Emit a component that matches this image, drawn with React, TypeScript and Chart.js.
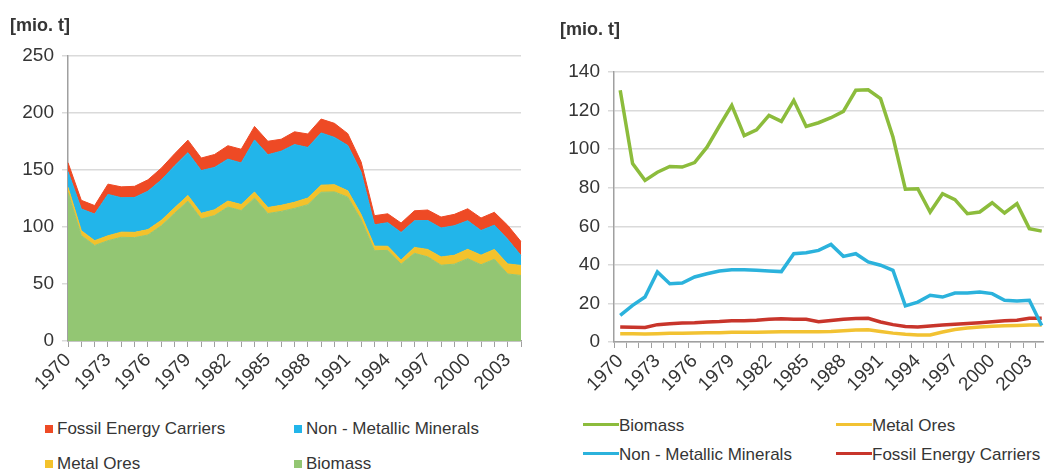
import React, { useEffect, useRef } from "react";
import { Chart, registerables } from "chart.js";

Chart.register(...registerables);

const years = [
  "1970", "1971", "1972", "1973", "1974", "1975", "1976", "1977", "1978", "1979",
  "1980", "1981", "1982", "1983", "1984", "1985", "1986", "1987", "1988", "1989",
  "1990", "1991", "1992", "1993", "1994", "1995", "1996", "1997", "1998", "1999",
  "2000", "2001", "2002", "2003", "2004",
];

const biomass = [
  130.5, 92.5, 83.8, 88, 91, 90.7, 93, 101, 112, 122.7,
  107, 110, 117.5, 114.4, 125.3, 111.8, 113.7, 116.3, 119.6, 130.5,
  130.8, 126.2, 106.3, 79.2, 79.5, 67.4, 76.9, 73.8, 66.5, 67.4,
  72.2, 66.9, 71.7, 58.8, 57.5,
];

const metalOres = [
  4.3, 4.3, 4.2, 4.3, 4.5, 4.6, 4.7, 4.8, 4.8, 5,
  5, 5.1, 5.2, 5.3, 5.3, 5.3, 5.3, 5.4, 5.8, 6.2,
  6.3, 5.5, 4.6, 4.0, 3.6, 3.6, 5.2, 6.5, 7.2, 7.8,
  8.2, 8.4, 8.6, 8.8, 8.8,
];

const nonMetallic = [
  13.8, 19, 23.3, 36.3, 30.2, 30.6, 33.7, 35.4, 36.8, 37.5,
  37.5, 37.2, 36.8, 36.5, 45.8, 46.3, 47.5, 50.6, 44.4, 45.8,
  41.5, 39.8, 37.2, 18.7, 20.7, 24.2, 23.3, 25.4, 25.4, 25.9,
  25.1, 21.6, 21.3, 21.6, 8.6,
];

const fossil = [
  7.8, 7.6, 7.5, 9, 9.5, 9.8, 10, 10.4, 10.6, 11,
  11, 11.3, 11.8, 12, 11.8, 11.8, 10.5, 11.2, 11.8, 12.2,
  12.3, 10.4, 9, 8, 7.8, 8.3, 8.8, 9.2, 9.6, 10,
  10.5, 11, 11.3, 12.3, 12.3,
];

const unitLabel = "[mio. t]";
const leftLegend = [
  { label: "Fossil Energy Carriers", color: "#ee4a25" },
  { label: "Non - Metallic Minerals", color: "#22b5ea" },
  { label: "Metal Ores", color: "#f3c22c" },
  { label: "Biomass", color: "#93c673" },
];
const rightLegend = [
  { label: "Biomass", color: "#8cbc3c" },
  { label: "Metal Ores", color: "#f2c232" },
  { label: "Non - Metallic Minerals", color: "#2bb2dc" },
  { label: "Fossil Energy Carriers", color: "#c8352b" },
];

const FONT = '"Liberation Sans", Arial, Helvetica, sans-serif';
const TEXT = "#353535";
const AXIS = "#a0a0a0";
const GRID = "#dadada";

const everyThird = (_v: any, i: number) => (i % 3 === 0 ? years[i] : "");

function LeftChart() {
  const ref = useRef<HTMLCanvasElement | null>(null);
  useEffect(() => {
    if (!ref.current) return;
    const chart = new Chart(ref.current, {
      type: "line",
      data: {
        labels: years,
        datasets: [
          { label: "Biomass", data: biomass, fill: "origin", backgroundColor: "#93c673", borderColor: "#93c673", borderWidth: 1 },
          { label: "Metal Ores", data: metalOres, fill: "-1", backgroundColor: "#f3c22c", borderColor: "#f3c22c", borderWidth: 1 },
          { label: "Non - Metallic Minerals", data: nonMetallic, fill: "-1", backgroundColor: "#22b5ea", borderColor: "#22b5ea", borderWidth: 1 },
          { label: "Fossil Energy Carriers", data: fossil, fill: "-1", backgroundColor: "#ee4a25", borderColor: "#ee4a25", borderWidth: 1 },
        ],
      },
      options: {
        animation: false,
        responsive: false,
        maintainAspectRatio: false,
        layout: { padding: { top: 56, right: 19, bottom: 0, left: 0 } },
        plugins: { legend: { display: false }, tooltip: { enabled: false } },
        elements: { point: { radius: 0 }, line: { tension: 0 } },
        scales: {
          x: {
            type: "category",
            offset: false,
            grid: { drawOnChartArea: false, tickLength: 6, color: AXIS },
            border: { color: AXIS, width: 1.5 },
            ticks: {
              autoSkip: false,
              maxRotation: 45,
              minRotation: 45,
              padding: 2,
              color: TEXT,
              font: { family: FONT, size: 19 },
              callback: everyThird,
            },
            afterFit: (s: any) => { s.height = 59; },
          },
          y: {
            stacked: true,
            min: 0,
            max: 250,
            ticks: { stepSize: 50, padding: 8, color: TEXT, font: { family: FONT, size: 19 } },
            grid: { color: GRID, lineWidth: 1.5, tickLength: 6 },
            border: { color: AXIS, width: 1.5 },
            afterFit: (s: any) => { s.width = 68; },
          },
        },
      },
    });
    return () => chart.destroy();
  }, []);
  return (
    <canvas
      ref={ref}
      width={540}
      height={400}
      style={{ position: "absolute", left: 0, top: 0, width: 540, height: 400 }}
    />
  );
}

function RightChart() {
  const ref = useRef<HTMLCanvasElement | null>(null);
  useEffect(() => {
    if (!ref.current) return;
    const ds = (label: string, data: number[], color: string) => ({
      label, data, borderColor: color, backgroundColor: color, borderWidth: 3.5, fill: false,
    });
    const chart = new Chart(ref.current, {
      type: "line",
      data: {
        labels: years,
        datasets: [
          ds("Biomass", biomass, "#8cbc3c"),
          ds("Non - Metallic Minerals", nonMetallic, "#2bb2dc"),
          ds("Fossil Energy Carriers", fossil, "#c8352b"),
          ds("Metal Ores", metalOres, "#f2c232"),
        ],
      },
      options: {
        animation: false,
        responsive: false,
        maintainAspectRatio: false,
        layout: { padding: { top: 72, right: 10, bottom: 0, left: 0 } },
        plugins: { legend: { display: false }, tooltip: { enabled: false } },
        elements: { point: { radius: 0 }, line: { tension: 0 } },
        scales: {
          x: {
            type: "category",
            offset: true,
            grid: { offset: true, drawOnChartArea: false, tickLength: 6, color: AXIS },
            border: { color: AXIS, width: 1.5 },
            ticks: {
              autoSkip: false,
              maxRotation: 45,
              minRotation: 45,
              padding: 2,
              color: TEXT,
              font: { family: FONT, size: 19 },
              callback: everyThird,
            },
            afterFit: (s: any) => { s.height = 58; },
          },
          y: {
            min: 0,
            max: 140,
            ticks: { stepSize: 20, padding: 8, color: TEXT, font: { family: FONT, size: 19 } },
            grid: { color: GRID, lineWidth: 1.5, tickLength: 6 },
            border: { color: AXIS, width: 1.5 },
            afterFit: (s: any) => { s.width = 74; },
          },
        },
      },
    });
    return () => chart.destroy();
  }, []);
  return (
    <canvas
      ref={ref}
      width={520}
      height={400}
      style={{ position: "absolute", left: 540, top: 0, width: 520, height: 400 }}
    />
  );
}

const legendText: React.CSSProperties = {
  position: "absolute",
  fontSize: 17,
  lineHeight: "20px",
  color: TEXT,
  whiteSpace: "nowrap",
};

export default function App() {
  const leftPos = [
    { x: 45, y: 419 },
    { x: 294, y: 419 },
    { x: 45, y: 454 },
    { x: 294, y: 454 },
  ];
  const rightPos = [
    { x: 583, y: 416 },
    { x: 836, y: 416 },
    { x: 583, y: 445 },
    { x: 836, y: 445 },
  ];
  return (
    <div
      style={{
        position: "absolute",
        left: 0,
        top: 0,
        width: 1044,
        height: 470,
        overflow: "hidden",
        background: "#ffffff",
        fontFamily: FONT,
      }}
    >
      <LeftChart />
      <RightChart />
      <div style={{ position: "absolute", left: 10, top: 15, fontSize: 18, fontWeight: "bold", color: TEXT }}>{unitLabel}</div>
      <div style={{ position: "absolute", left: 560, top: 19, fontSize: 18, fontWeight: "bold", color: TEXT }}>{unitLabel}</div>
      {leftLegend.map((item, i) => (
        <div key={"l" + i} style={{ ...legendText, left: leftPos[i].x, top: leftPos[i].y }}>
          <span style={{ display: "inline-block", width: 8, height: 8, background: item.color, marginRight: 4, verticalAlign: "1px" }} />
          {item.label}
        </div>
      ))}
      {rightLegend.map((item, i) => (
        <div key={"r" + i} style={{ ...legendText, left: rightPos[i].x, top: rightPos[i].y }}>
          <span style={{ display: "inline-block", width: 36, height: 3, background: item.color, verticalAlign: "5px" }} />
          {item.label}
        </div>
      ))}
    </div>
  );
}
